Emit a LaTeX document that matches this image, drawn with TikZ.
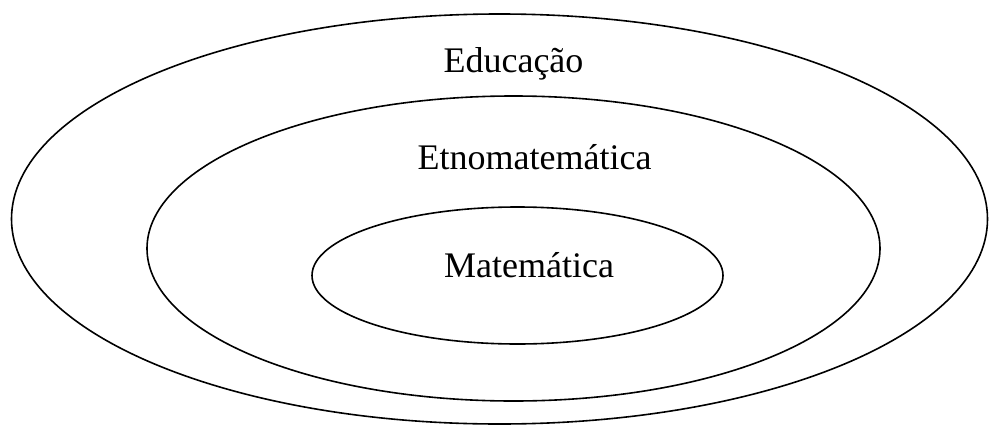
\documentclass[tikz,border=0pt]{standalone}
\usepackage{fontspec}
\setmainfont{Liberation Serif}
\begin{document}
\begin{tikzpicture}[x=1pt, y=-1pt, font=\fontsize{36}{40}\selectfont]
    \tikzset{ring/.style={draw=black, line width=1.6pt}}
    \tikzset{ring label/.style={anchor=base, inner sep=0pt}}
    \useasboundingbox (0,0) rectangle (989,426);
    
    % Outer ring - Educacao
    \draw[ring] (499.5,219) ellipse [x radius=488, y radius=205];
    \node[ring label] (educacao) at (513.5,72) {Educação};
    
    % Middle ring - Etnomatematica
    \draw[ring] (513.5,248.5) ellipse [x radius=366.5, y radius=152.5];
    \node[ring label] (etno) at (534.5,169) {Etnomatemática};
    
    % Inner ring - Matematica
    \draw[ring] (517.5,275.5) ellipse [x radius=205.5, y radius=68.5];
    \node[ring label] (mat) at (529,277) {Matemática};
    
\end{tikzpicture}
\end{document}
